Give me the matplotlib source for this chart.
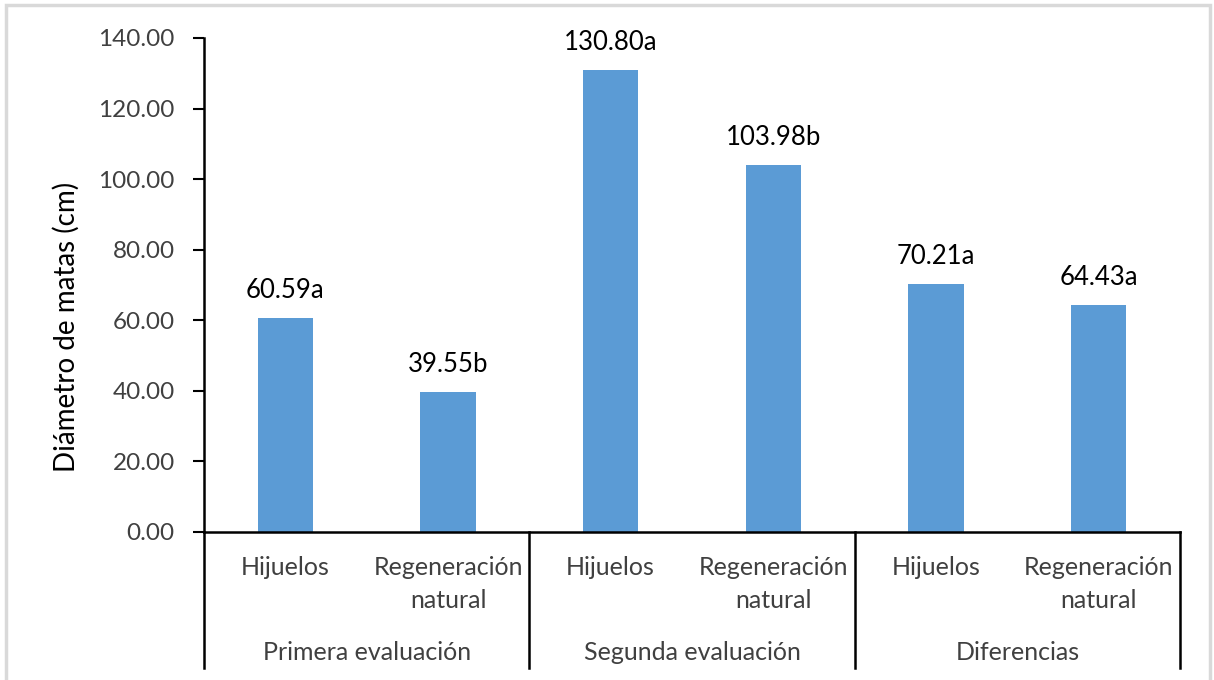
import matplotlib.pyplot as plt
from matplotlib.patches import Rectangle
import numpy as np

plt.rcParams['font.family'] = ['Lato', 'DejaVu Sans']

groups = ['Primera evaluación', 'Segunda evaluación', 'Diferencias']
categories = ['Hijuelos', 'Regeneración\nnatural'] * 3
values = [60.59, 39.55, 130.80, 103.98, 70.21, 64.43]
letters = ['a', 'b', 'a', 'b', 'a', 'a']
yticks = np.arange(0, 141, 20)

bar_color = '#5B9BD5'
text_color = '#404040'
fs_tick = 17.5
fs_cat = 18
fs_val = 18.5

W, H = 1214, 680
fig = plt.figure(figsize=(W / 100, H / 100), dpi=100)
fig.patches.append(Rectangle((6 / W, -0.1), 1204 / W, 1.1 - 5 / H, transform=fig.transFigure,
                             fill=False, edgecolor='#D9D9D9', linewidth=2.5))

ax = fig.add_axes([204 / W, (H - 532) / H, 976 / W, 494 / H])
x = np.arange(len(values))
ax.bar(x, values, width=0.34, color=bar_color, zorder=2)

for xi, v, l in zip(x, values, letters):
    ax.annotate(f'{v:.2f}{l}', (xi, v), xytext=(0, 14.5), textcoords='offset points',
                ha='center', va='baseline', fontsize=fs_val, color='black')

ax.set_xlim(-0.5, len(values) - 0.5)
ax.set_ylim(0, 140)
ax.set_yticks(yticks)
ax.set_yticklabels([f'{t:.2f}' for t in yticks], fontsize=fs_tick, color=text_color)
ax.tick_params(axis='y', length=8, width=1.5, pad=13)
ax.set_xticks([])
ax.spines['top'].set_visible(False)
ax.spines['right'].set_visible(False)
for s in ('left', 'bottom'):
    ax.spines[s].set_linewidth(1.8)
    ax.spines[s].set_color('black')
ax.set_ylabel('Diámetro de matas (cm)', fontsize=20, color='black')
ax.yaxis.set_label_coords(-124 / 976, 205 / 494)

# multi-level category axis, positions in pixels below the zero line
tr = ax.get_xaxis_transform()
px = 1 / 494
for xi, c in zip(x, categories):
    for k, line in enumerate(c.split('\n')):
        ax.text(xi, -(43 + 33 * k) * px, line, transform=tr, ha='center', va='baseline',
                fontsize=fs_cat, color=text_color)
for gi, g in enumerate(groups):
    ax.text(2 * gi + 0.5, -128 * px, g, transform=tr, ha='center', va='baseline',
            fontsize=fs_cat, color=text_color)
for b in np.arange(-0.5, len(values), 2):
    ax.plot([b, b], [0, -136 * px], transform=tr, color='black', lw=1.8, clip_on=False)

fig.savefig('out.png', dpi=100)
